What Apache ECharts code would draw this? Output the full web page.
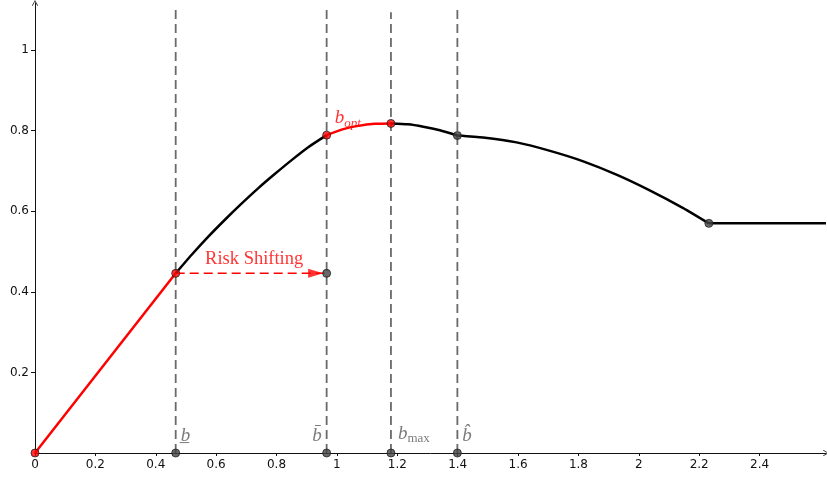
<!DOCTYPE html>
<html>
<head>
<meta charset="utf-8">
<script src="https://cdn.jsdelivr.net/npm/echarts@6/dist/echarts.min.js"></script>
<style>
  html, body { margin: 0; padding: 0; background: #fff; }
  #chart { width: 827px; height: 478px; }
</style>
</head>
<body>
<div id="chart"></div>
<script>
// ---- data ----
const xTicks = [0, 0.2, 0.4, 0.6, 0.8, 1, 1.2, 1.4, 1.6, 1.8, 2, 2.2, 2.4];
const yTicks = [0.2, 0.4, 0.6, 0.8, 1];

// key abscissas
const bLow = 0.466, bBar = 0.966, bMax = 1.179, bHat = 1.399, bKink = 2.232;

// curve pieces
const linearSeg  = [[0, 0], [0.466, 0.446]];
const riseSeg    = [[0.466, 0.446], [0.519, 0.492], [0.574, 0.537], [0.629, 0.579], [0.684, 0.619],
                    [0.739, 0.657], [0.795, 0.693], [0.850, 0.727], [0.905, 0.759], [0.966, 0.789]];
const optSeg     = [[0.966, 0.789], [1.021, 0.804], [1.071, 0.812], [1.125, 0.817], [1.179, 0.818]];
const fallSeg    = [[1.179, 0.818], [1.235, 0.816], [1.286, 0.810], [1.341, 0.801], [1.399, 0.788]];
const declineSeg = [[1.399, 0.788], [1.484, 0.783], [1.595, 0.771], [1.706, 0.750], [1.816, 0.724],
                    [1.926, 0.691], [2.036, 0.652], [2.147, 0.608], [2.232, 0.570]];
const flatSeg    = [[2.232, 0.570], [2.62, 0.570]];

const shiftLevel = 0.446;          // risk-shifting arrow level
const vlineTops  = [1.112, 1.112, 1.094, 1.112];  // tops of the dashed verticals
const markerX    = [bLow, bBar, bMax, bHat];

const redDots  = [[0, 0], [bLow, 0.446], [bBar, 0.789], [bMax, 0.818]];
const grayDots = [[bHat, 0.788], [bKink, 0.570], [bBar, shiftLevel],
                  [bLow, 0], [bBar, 0], [bMax, 0], [bHat, 0]];

// ---- chart ----
const serif = "'Liberation Serif', 'DejaVu Serif', serif";
const gray = '#5a5a5a';
const chevron = 'path://M0,9L5,0L10,9L9,10L5,2.2L1,10Z';

function curve(data, color) {
  return {
    type: 'line', data: data, smooth: 0.2, showSymbol: false,
    lineStyle: { color: color, width: 2.5 }, z: 3, silent: true
  };
}

const series = [];

// dashed verticals
markerX.forEach((x, i) => {
  series.push({
    type: 'line', data: [[x, 0], [x, vlineTops[i]]], showSymbol: false, silent: true,
    lineStyle: { color: '#6a6a6a', width: 1.8, type: [9, 5] }, z: 1
  });
});

series.push(curve(linearSeg, '#ff0000'));
series.push(curve(riseSeg, '#000'));
series.push(curve(optSeg, '#ff0000'));
series.push(curve(fallSeg, '#000'));
series.push(curve(declineSeg, '#000'));
series.push(curve(flatSeg, '#000'));

// risk shifting arrow shaft
series.push({
  type: 'line', data: [[bLow, shiftLevel], [bBar, shiftLevel]], showSymbol: false, silent: true,
  lineStyle: { color: '#ff0000', width: 1.6, type: [9, 5] }, z: 2
});
// arrow head
series.push({
  type: 'scatter', data: [[bBar, shiftLevel]], symbol: 'triangle', symbolSize: [9, 15],
  symbolRotate: -90, symbolOffset: [-11, 0], silent: true,
  itemStyle: { color: '#ff0000' }, z: 4
});

// dots
series.push({
  type: 'scatter', data: grayDots, symbolSize: 8, silent: true,
  itemStyle: { color: '#444', borderColor: '#222', borderWidth: 1 }, z: 5
});
series.push({
  type: 'scatter', data: redDots, symbolSize: 8, silent: true,
  itemStyle: { color: '#ff0000', borderColor: '#222', borderWidth: 1 }, z: 6
});

// text labels
const labelRich = {
  b:   { fontFamily: serif, fontStyle: 'italic', fontSize: 19, color: gray },
  sub: { fontFamily: serif, fontSize: 13, color: gray, padding: [10, 0, 0, 0] },
  rb:  { fontFamily: serif, fontStyle: 'italic', fontSize: 19, color: '#ff0000' },
  rsub:{ fontFamily: serif, fontStyle: 'italic', fontSize: 13, color: '#ff0000', padding: [10, 0, 0, 0] },
  rs:  { fontFamily: serif, fontSize: 18.5, color: '#ff0000' }
};
const textItems = [
  { value: [bLow, 0], label: { formatter: '{b|b\u0332}', position: [5, -17], align: 'left', verticalAlign: 'middle' } },
  { value: [bBar, 0], label: { formatter: '{b|b\u0304}', position: [-5, -17], align: 'right', verticalAlign: 'middle' } },
  { value: [bMax, 0], label: { formatter: '{b|b}{sub|max}', position: [7, -19], align: 'left', verticalAlign: 'middle' } },
  { value: [bHat, 0], label: { formatter: '{b|b\u0302}', position: [5, -17], align: 'left', verticalAlign: 'middle' } },
  { value: [bBar, 0.789], label: { formatter: '{rb|b}{rsub|opt}', position: [8, -17], align: 'left', verticalAlign: 'middle' } },
  { value: [(bLow + bBar) / 2, shiftLevel], label: { formatter: '{rs|Risk Shifting}', position: [3, -14], align: 'center', verticalAlign: 'middle' } }
];
series.push({
  type: 'scatter', data: textItems, symbolSize: 0, silent: true, z: 7,
  label: { show: true, rich: labelRich }
});

const axisFont = { fontFamily: "'DejaVu Sans', sans-serif", fontSize: 12, color: '#111' };

const option = {
  animation: false,
  backgroundColor: '#fff',
  grid: { left: 35, right: 1, top: 3, bottom: 25 },
  xAxis: {
    type: 'value', min: 0, max: 2.62,
    axisLine: { onZero: false, lineStyle: { color: '#111', width: 1 }, symbol: ['none', chevron], symbolSize: [9, 6] },
    axisTick: { show: true, length: 3, lineStyle: { color: '#111' }, customValues: xTicks },
    axisLabel: Object.assign({ margin: 6, customValues: xTicks, formatter: v => String(v) }, axisFont),
    splitLine: { show: false }
  },
  yAxis: {
    type: 'value', min: 0, max: 1.117,
    axisLine: { show: true, onZero: false, lineStyle: { color: '#111', width: 1 }, symbol: ['none', chevron], symbolSize: [9, 6] },
    axisTick: { show: true, length: 4, lineStyle: { color: '#111' }, customValues: yTicks },
    axisLabel: Object.assign({ margin: 6, customValues: yTicks, formatter: v => String(v) }, axisFont),
    splitLine: { show: false }
  },
  series: series
};

const chart = echarts.init(document.getElementById('chart'), null, { renderer: 'canvas' });
chart.setOption(option);
</script>
</body>
</html>
